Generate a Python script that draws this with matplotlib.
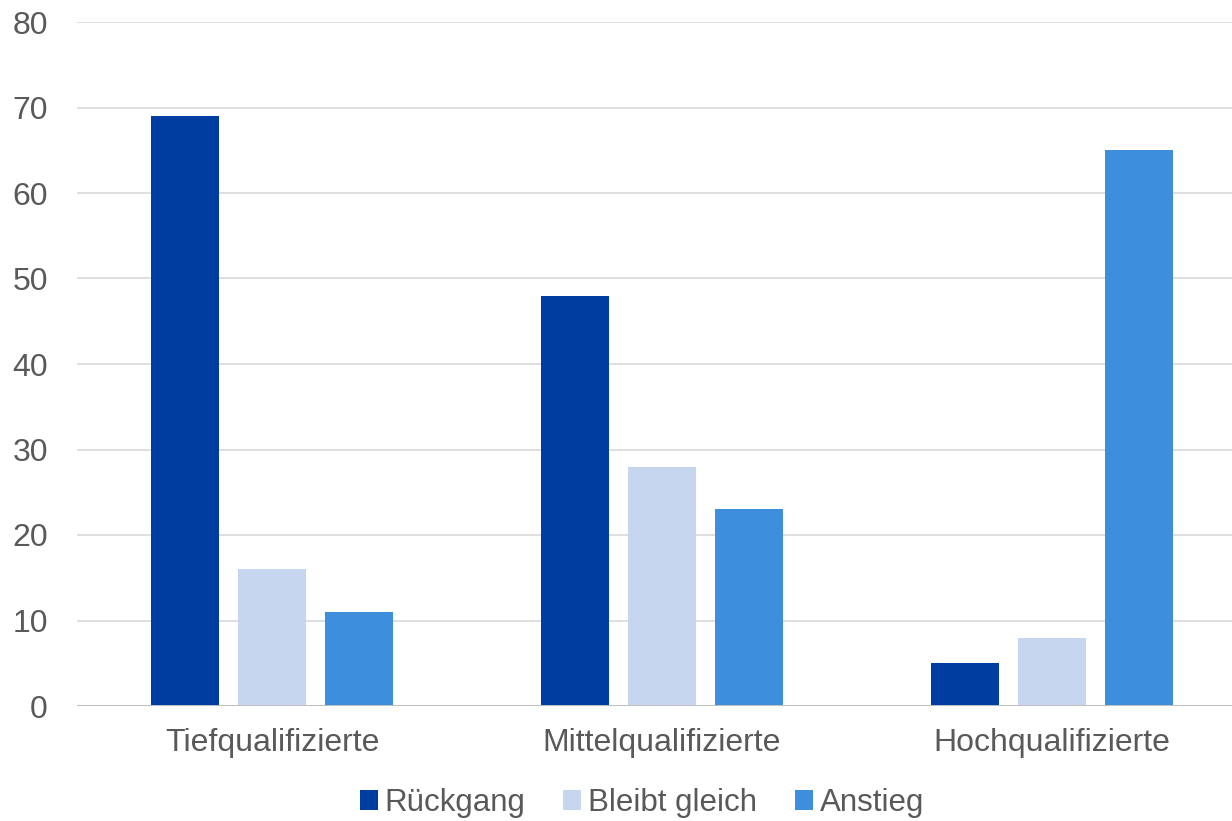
import matplotlib.pyplot as plt
import numpy as np

plt.rcParams['font.family'] = ['Liberation Sans', 'DejaVu Sans']

categories = ['Tiefqualifizierte', 'Mittelqualifizierte', 'Hochqualifizierte']
series_names = ['Rückgang', 'Bleibt gleich', 'Anstieg']
rueckgang = [69, 48, 5]
bleibt_gleich = [16, 28, 8]
anstieg = [11, 23, 65]
yticks = [0, 10, 20, 30, 40, 50, 60, 70, 80]

colors = ['#003DA0', '#C5D6EE', '#3D8EDD']
text_col = '#595959'

fig = plt.figure(figsize=(12.32, 8.21), dpi=100)
ax = fig.add_axes([77 / 1232, 1 - 706 / 821, 1170 / 1232, 684 / 821])

x = np.arange(len(categories))
width = 0.174
step = 0.222
for i, (name, vals) in enumerate(zip(series_names, [rueckgang, bleibt_gleich, anstieg])):
    ax.bar(x + (i - 1) * step, vals, width, color=colors[i], label=name, zorder=3)

ax.set_xlim(-0.5, 2.5)
ax.set_ylim(0, 80)
ax.set_yticks(yticks)
ax.set_xticks(x)
ax.set_xticklabels(categories)
ax.yaxis.grid(True, color='#D9D9D9', linewidth=1.2, zorder=0)
ax.axhline(0, color='#BFBFBF', linewidth=1.4, zorder=4)
for s in ax.spines.values():
    s.set_visible(False)
ax.tick_params(axis='both', length=0, labelsize=23, colors=text_col)
ax.tick_params(axis='y', pad=21)
ax.tick_params(axis='x', pad=16)

fig.legend(loc='center', bbox_to_anchor=(0.521, 1 - 803 / 821), ncol=3, frameon=False,
           fontsize=22.5, handlelength=0.58, handleheight=0.58, handletextpad=0.22,
           columnspacing=1.2, labelcolor=text_col)

fig.savefig('out.png', dpi=100)
